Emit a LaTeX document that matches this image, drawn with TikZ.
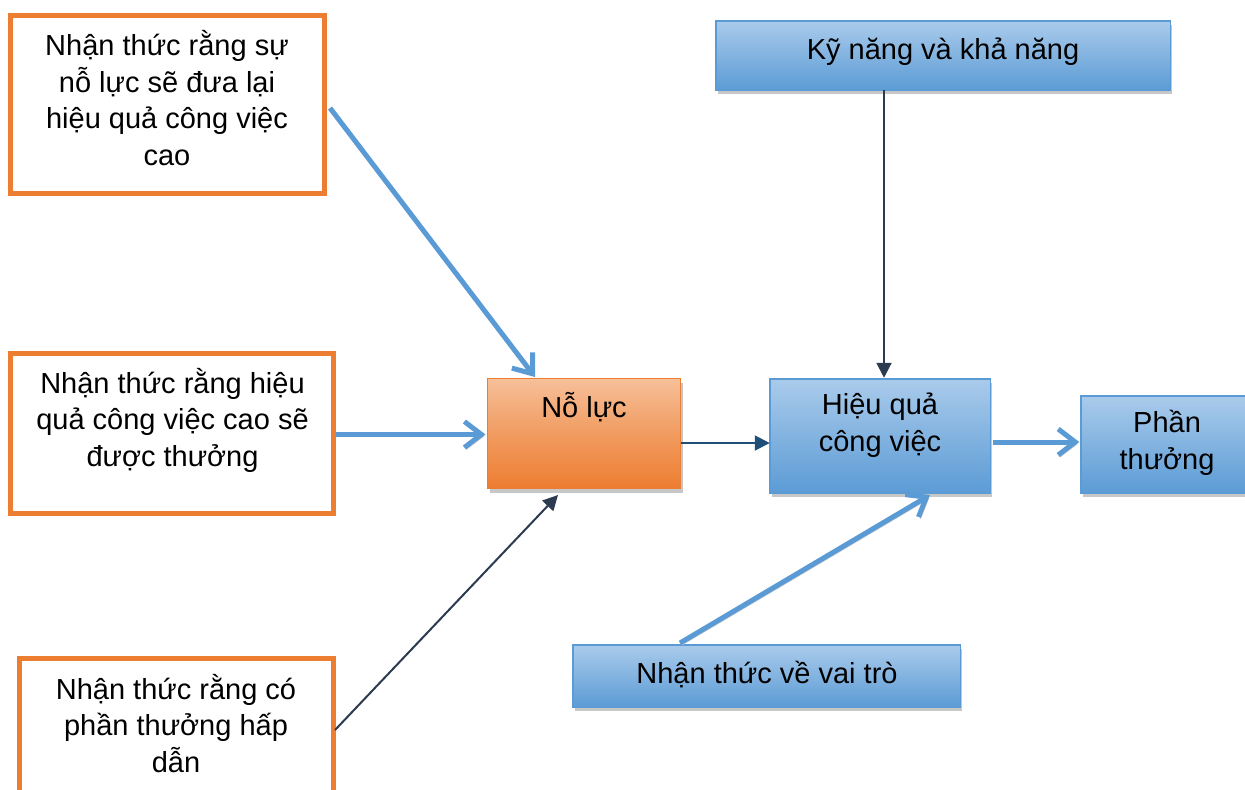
\documentclass[tikz,border=0pt]{standalone}
\usepackage{fontspec}
\setmainfont{Liberation Sans}
\usetikzlibrary{arrows.meta,shadows,calc}

\definecolor{accorange}{HTML}{ED7D31}
\definecolor{orangetop}{HTML}{F6C09A}
\definecolor{accblue}{HTML}{5B9BD5}
\definecolor{bluetop}{HTML}{AACBEB}
\definecolor{navyline}{HTML}{1F4E79}
\definecolor{slateline}{HTML}{2C3B50}

\begin{document}
\begin{tikzpicture}[x=0.5pt,y=-0.5pt,
  every node/.style={inner sep=0pt,outer sep=0pt},
  % white boxes with a heavy orange frame
  framebox/.style={draw=accorange,line width=2.5pt,fill=white},
  % shaded boxes with a flat grey drop shadow
  orangebox/.style={draw=accorange,line width=0.75pt,top color=orangetop,bottom color=accorange,
    middle color=accorange!55!orangetop,
    drop shadow={shadow xshift=1pt,shadow yshift=-2pt,fill=black!22,opacity=1}},
  bluebox/.style={draw=accblue,line width=0.75pt,top color=bluetop,bottom color=accblue,
    middle color=accblue!50!bluetop,
    drop shadow={shadow xshift=1pt,shadow yshift=-2pt,fill=black!22,opacity=1}},
  % texts are placed by the baseline of their last line
  boxtext/.style={align=center,anchor=base,text=black,
    font=\fontsize{14.5pt}{18.25pt}\selectfont},
  % thick blue connectors with open arrow heads
  bluearrow/.style={draw=accblue,line width=2.5pt,
    -{Straight Barb[length=8.5pt,width=13pt]},
    preaction={draw=black!20,transform canvas={xshift=1pt,yshift=-1pt}}},
  % thin dark connectors with solid arrow heads
  darkarrow/.style={draw=#1,line width=1pt,-{Triangle[length=7.5pt,width=7.5pt]}},
  darkarrow/.default=slateline
]
\useasboundingbox (0,0) rectangle (1245,789);

% ---- boxes ----
\node[framebox,minimum width=157pt,minimum height=89pt] (b1) at (167.5,104.5) {};
\node[framebox,minimum width=161.5pt,minimum height=80pt] (b2) at (172,433.5) {};
\node[framebox,minimum width=157pt,minimum height=100.75pt] (b3) at (176.5,759.25) {};
\node[orangebox,minimum width=96.5pt,minimum height=55pt] (nl) at (584,433.5) {};
\node[bluebox,minimum width=110.25pt,minimum height=57.25pt] (hq) at (880,436) {};
\node[bluebox,minimum width=227.25pt,minimum height=34.75pt] (kn) at (943,55.5) {};
\node[bluebox,minimum width=86.6pt,minimum height=48.75pt] (pt) at (1167.4,444.5) {};
\node[bluebox,minimum width=193.75pt,minimum height=31.25pt] (vt) at (766.5,676) {};

% ---- texts ----
\node[boxtext] (b1t) at (167,165) {Nhận thức rằng sự\\nỗ lực sẽ đưa lại\\hiệu quả công việc\\cao};
\node[boxtext] (b2t) at (172.5,466) {Nhận thức rằng hiệu\\quả công việc cao sẽ\\được thưởng};
\node[boxtext] (b3t) at (176,772) {Nhận thức rằng có\\phần thưởng hấp\\dẫn};
\node[boxtext] (nlt) at (584,417) {Nỗ lực};
\node[boxtext] (hqt) at (880,451) {Hiệu quả\\công việc};
\node[boxtext] (knt) at (943,59) {Kỹ năng và khả năng};
\node[boxtext] (ptt) at (1167,469) {Phần\\thưởng};
\node[boxtext] (vtt) at (767,683) {Nhận thức về vai trò};

% ---- connectors ----
\draw[bluearrow] ($(b1.east)+(5.5,3.5)$) -- ($(nl.north west)+(47.5,-1.5)$);
\draw[bluearrow] ($(b2.east)+(2.5,1)$) -- ($(nl.west)+(-2,1)$);
\draw[darkarrow] ($(b3.north east)+(1.5,71.5)$) -- ($(nl.south west)+(70.5,6.5)$);
\coordinate (nlout) at ($(nl.east)+(0.5,9.5)$);
\draw[darkarrow=navyline] (nlout) -- (nlout -| hq.west);
\coordinate (hqtop) at ($(hq.north)+(4,-1)$);
\draw[darkarrow] (hqtop |- kn.south) -- (hqtop);
\coordinate (hqout) at ($(hq.east)+(2.5,6)$);
\draw[bluearrow] (hqout) -- ($(hqout -| pt.west)+(-1.5,0)$);
\draw[bluearrow] ($(vt.north west)+(107.25,-1.75)$) -- ($(hq.south west)+(160.25,1.75)$);
\end{tikzpicture}
\end{document}
